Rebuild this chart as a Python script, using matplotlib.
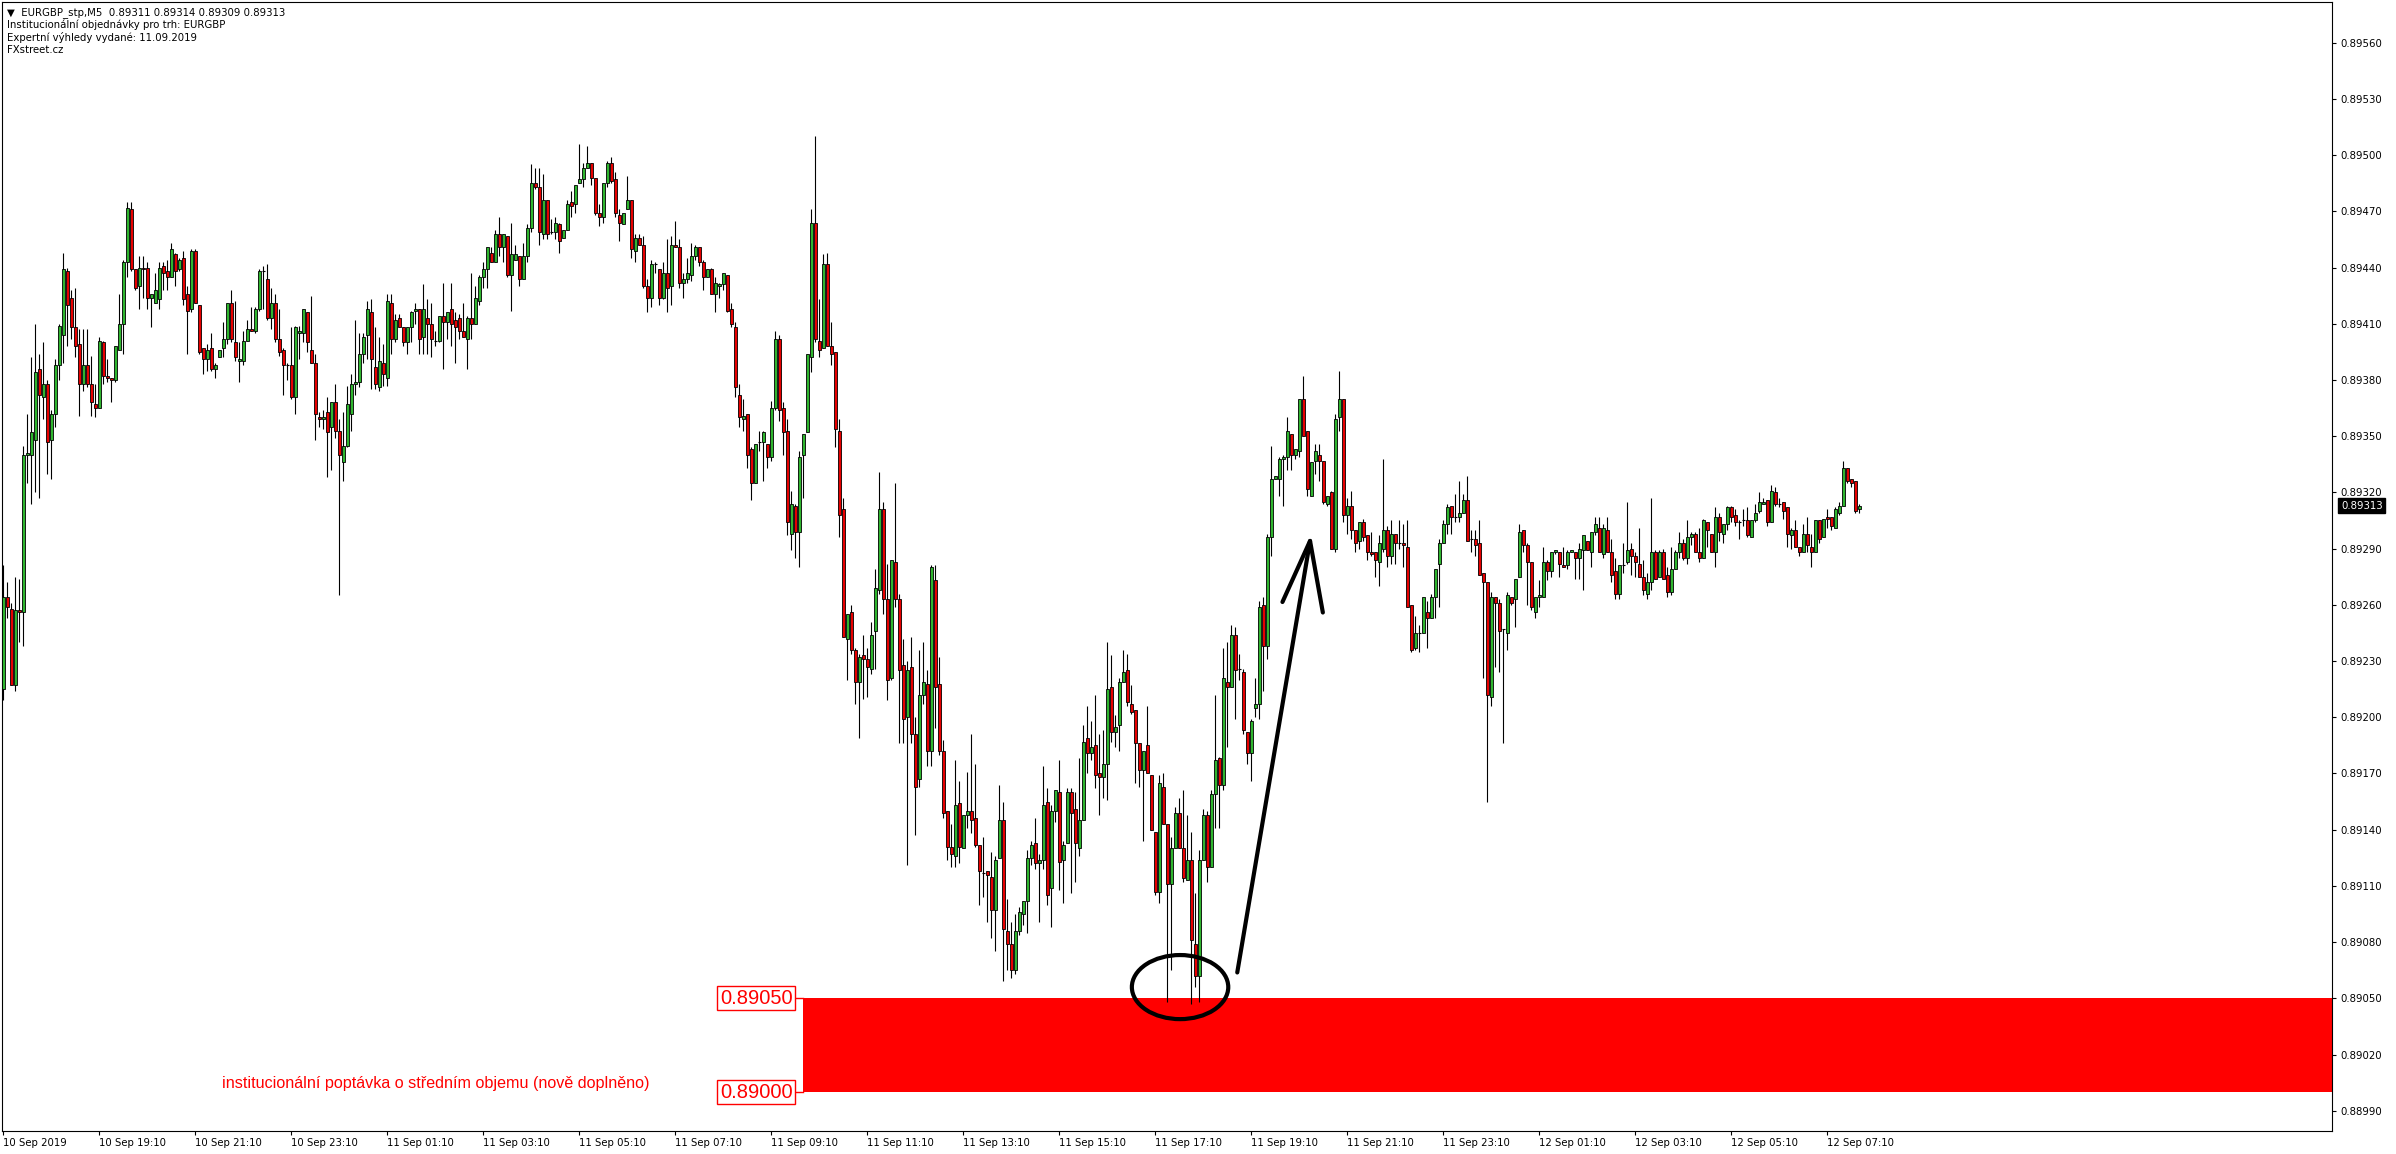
import matplotlib
matplotlib.use("Agg")
import matplotlib.pyplot as plt
from matplotlib.patches import Rectangle, Ellipse
from matplotlib.transforms import blended_transform_factory
import numpy as np

# EURGBP M5 candles, prices in points (1e-5)
opens = [
    89215, 89264, 89258, 89217, 89257, 89256, 89340, 89340, 89348, 89386, 89371, 89378,
    89348, 89362, 89388, 89404, 89438, 89424, 89408, 89399, 89378, 89388, 89378, 89367,
    89365, 89400, 89382, 89381, 89380, 89396, 89410, 89443, 89471, 89439, 89430, 89440,
    89440, 89424, 89421, 89423, 89441, 89438, 89435, 89447, 89439, 89445, 89426, 89418,
    89449, 89420, 89397, 89391, 89397, 89386, 89392, 89397, 89402, 89421, 89400, 89390,
    89390, 89401, 89407, 89406, 89418, 89438, 89434, 89413, 89421, 89402, 89396, 89388,
    89388, 89371, 89405, 89405, 89416, 89396, 89389, 89360, 89359, 89363, 89355, 89368,
    89353, 89336, 89345, 89362, 89378, 89379, 89394, 89404, 89416, 89387, 89376, 89389,
    89381, 89421, 89402, 89413, 89408, 89400, 89408, 89417, 89418, 89403, 89413, 89410,
    89401, 89401, 89414, 89411, 89418, 89412, 89413, 89406, 89402, 89413, 89410, 89422,
    89435, 89439, 89448, 89443, 89458, 89451, 89457, 89436, 89444, 89446, 89434, 89446,
    89461, 89485, 89483, 89458, 89476, 89459, 89459, 89463, 89456, 89460, 89475, 89474,
    89485, 89487, 89493, 89496, 89488, 89469, 89467, 89485, 89496, 89487, 89468, 89463,
    89471, 89476, 89449, 89456, 89452, 89430, 89424, 89442, 89439, 89424, 89437, 89430,
    89452, 89451, 89432, 89434, 89436, 89446, 89451, 89443, 89435, 89439, 89426, 89430,
    89431, 89436, 89418, 89408, 89372, 89359, 89362, 89343, 89325, 89347, 89347, 89346,
    89339, 89365, 89402, 89365, 89353, 89298, 89313, 89299, 89340, 89352, 89392, 89464,
    89401, 89397, 89442, 89398, 89395, 89353, 89311, 89242, 89256, 89236, 89219, 89233,
    89231, 89226, 89246, 89268, 89311, 89263, 89221, 89283, 89263, 89228, 89200, 89227,
    89191, 89167, 89212, 89218, 89182, 89273, 89218, 89182, 89150, 89131, 89126, 89154,
    89130, 89148, 89150, 89146, 89132, 89117, 89118, 89115, 89097, 89125, 89145, 89086,
    89079, 89065, 89086, 89095, 89102, 89125, 89133, 89122, 89124, 89155, 89109, 89150,
    89160, 89124, 89133, 89160, 89151, 89130, 89145, 89189, 89181, 89185, 89170, 89168,
    89175, 89216, 89192, 89196, 89219, 89225, 89207, 89204, 89186, 89172, 89185, 89169,
    89139, 89107, 89163, 89143, 89111, 89130, 89149, 89130, 89113, 89124, 89079, 89062,
    89124, 89148, 89120, 89159, 89178, 89164, 89219, 89216, 89244, 89226, 89224, 89192,
    89181, 89205, 89207, 89260, 89238, 89296, 89327, 89327, 89338, 89339, 89351, 89340,
    89342, 89370, 89353, 89318, 89337, 89340, 89337, 89314, 89320, 89290, 89360, 89370,
    89308, 89313, 89300, 89294, 89304, 89297, 89288, 89288, 89283, 89290, 89300, 89286,
    89298, 89293, 89293, 89291, 89260, 89237, 89245, 89245, 89256, 89253, 89264, 89282,
    89293, 89303, 89313, 89307, 89307, 89309, 89316, 89295, 89295, 89293, 89277, 89272,
    89211, 89264, 89261, 89247, 89245, 89264, 89263, 89275, 89300, 89292, 89283, 89256,
    89264, 89264, 89283, 89278, 89288, 89288, 89281, 89281, 89288, 89288, 89285, 89289,
    89294, 89288, 89299, 89301, 89287, 89300, 89288, 89278, 89266, 89281, 89283, 89290,
    89286, 89282, 89275, 89266, 89272, 89288, 89275, 89288, 89276, 89267, 89279, 89288,
    89293, 89285, 89296, 89298, 89288, 89285, 89304, 89298, 89288, 89307, 89298, 89303,
    89312, 89308, 89304, 89305, 89305, 89296, 89305, 89310, 89314, 89316, 89304, 89320,
    89314, 89315, 89312, 89297, 89300, 89291, 89288, 89298, 89291, 89288, 89305, 89296,
    89307, 89307, 89301, 89309, 89313, 89333, 89327, 89326, 89311,
]
highs = [
    89281, 89272, 89261, 89275, 89274, 89345, 89362, 89392, 89410, 89394, 89400, 89380,
    89364, 89391, 89410, 89448, 89440, 89428, 89429, 89407, 89407, 89407, 89393, 89378,
    89403, 89401, 89391, 89381, 89398, 89426, 89444, 89475, 89475, 89439, 89446, 89446,
    89443, 89426, 89437, 89443, 89443, 89444, 89453, 89448, 89445, 89449, 89430, 89450,
    89450, 89420, 89397, 89399, 89405, 89389, 89396, 89411, 89421, 89428, 89422, 89400,
    89406, 89412, 89419, 89419, 89439, 89441, 89442, 89429, 89426, 89418, 89397, 89389,
    89408, 89409, 89409, 89418, 89416, 89425, 89394, 89363, 89364, 89371, 89368, 89378,
    89359, 89363, 89377, 89383, 89412, 89405, 89405, 89422, 89423, 89408, 89403, 89399,
    89426, 89426, 89415, 89415, 89408, 89408, 89417, 89421, 89418, 89431, 89423, 89421,
    89406, 89414, 89432, 89416, 89432, 89416, 89415, 89421, 89414, 89437, 89430, 89436,
    89443, 89451, 89451, 89460, 89467, 89458, 89457, 89464, 89452, 89446, 89453, 89463,
    89495, 89493, 89493, 89490, 89476, 89466, 89467, 89464, 89460, 89476, 89481, 89484,
    89506, 89496, 89505, 89496, 89488, 89474, 89485, 89497, 89499, 89491, 89471, 89469,
    89489, 89476, 89458, 89458, 89457, 89434, 89444, 89443, 89439, 89443, 89455, 89457,
    89465, 89455, 89437, 89445, 89453, 89452, 89451, 89444, 89439, 89440, 89435, 89432,
    89437, 89436, 89421, 89411, 89378, 89370, 89362, 89344, 89346, 89353, 89353, 89346,
    89369, 89406, 89404, 89368, 89359, 89321, 89314, 89342, 89351, 89394, 89471, 89510,
    89423, 89447, 89448, 89411, 89395, 89359, 89317, 89255, 89260, 89237, 89234, 89244,
    89237, 89251, 89279, 89331, 89315, 89282, 89284, 89325, 89266, 89242, 89230, 89243,
    89200, 89236, 89240, 89225, 89281, 89281, 89232, 89188, 89150, 89143, 89177, 89166,
    89148, 89171, 89191, 89175, 89132, 89136, 89118, 89128, 89126, 89164, 89155, 89103,
    89091, 89095, 89099, 89102, 89129, 89134, 89146, 89127, 89174, 89162, 89153, 89161,
    89177, 89134, 89162, 89162, 89160, 89178, 89196, 89206, 89198, 89212, 89191, 89193,
    89240, 89233, 89201, 89221, 89236, 89234, 89217, 89204, 89186, 89182, 89206, 89169,
    89139, 89169, 89170, 89143, 89136, 89152, 89157, 89161, 89148, 89139, 89106, 89129,
    89151, 89150, 89161, 89212, 89179, 89237, 89240, 89249, 89248, 89234, 89226, 89192,
    89199, 89221, 89262, 89264, 89298, 89345, 89329, 89339, 89340, 89360, 89351, 89343,
    89370, 89382, 89353, 89336, 89346, 89346, 89337, 89318, 89321, 89362, 89385, 89370,
    89317, 89321, 89300, 89304, 89306, 89297, 89299, 89288, 89297, 89338, 89302, 89305,
    89298, 89305, 89303, 89305, 89260, 89254, 89249, 89264, 89262, 89266, 89279, 89295,
    89305, 89314, 89313, 89319, 89326, 89319, 89329, 89300, 89300, 89305, 89277, 89272,
    89267, 89264, 89263, 89247, 89267, 89264, 89274, 89303, 89300, 89293, 89283, 89264,
    89273, 89291, 89284, 89288, 89289, 89288, 89291, 89289, 89289, 89288, 89293, 89297,
    89294, 89299, 89307, 89307, 89303, 89307, 89295, 89285, 89281, 89293, 89315, 89293,
    89288, 89301, 89284, 89277, 89317, 89289, 89289, 89290, 89280, 89291, 89289, 89299,
    89295, 89305, 89299, 89299, 89301, 89306, 89304, 89298, 89312, 89309, 89303, 89313,
    89313, 89311, 89305, 89311, 89312, 89305, 89314, 89320, 89317, 89316, 89324, 89323,
    89317, 89315, 89312, 89301, 89305, 89291, 89303, 89307, 89298, 89305, 89305, 89306,
    89311, 89307, 89312, 89315, 89337, 89333, 89327, 89326, 89314,
]
lows = [
    89209, 89253, 89217, 89214, 89240, 89238, 89325, 89314, 89320, 89317, 89359, 89330,
    89327, 89355, 89380, 89389, 89398, 89402, 89392, 89361, 89374, 89376, 89361, 89360,
    89365, 89378, 89379, 89368, 89379, 89396, 89394, 89435, 89438, 89428, 89418, 89424,
    89418, 89408, 89421, 89418, 89428, 89428, 89435, 89430, 89438, 89420, 89394, 89416,
    89421, 89394, 89383, 89385, 89385, 89381, 89392, 89392, 89399, 89400, 89390, 89379,
    89388, 89401, 89406, 89405, 89417, 89418, 89412, 89407, 89400, 89393, 89372, 89380,
    89370, 89362, 89391, 89400, 89395, 89389, 89348, 89355, 89354, 89328, 89332, 89349,
    89265, 89326, 89344, 89353, 89372, 89376, 89389, 89391, 89375, 89375, 89374, 89377,
    89377, 89394, 89400, 89408, 89398, 89394, 89400, 89410, 89394, 89394, 89394, 89392,
    89398, 89400, 89386, 89402, 89398, 89389, 89402, 89403, 89386, 89402, 89410, 89420,
    89429, 89429, 89443, 89443, 89446, 89443, 89435, 89417, 89444, 89430, 89434, 89443,
    89459, 89482, 89452, 89455, 89455, 89458, 89455, 89448, 89456, 89460, 89467, 89469,
    89485, 89483, 89493, 89484, 89468, 89462, 89464, 89483, 89485, 89467, 89454, 89463,
    89471, 89445, 89443, 89452, 89429, 89416, 89419, 89437, 89420, 89423, 89416, 89420,
    89451, 89429, 89424, 89432, 89433, 89444, 89441, 89428, 89435, 89426, 89416, 89424,
    89428, 89416, 89408, 89371, 89355, 89353, 89333, 89316, 89325, 89342, 89326, 89333,
    89337, 89364, 89358, 89340, 89297, 89289, 89285, 89280, 89317, 89352, 89384, 89400,
    89392, 89397, 89398, 89388, 89344, 89296, 89243, 89220, 89234, 89207, 89189, 89210,
    89211, 89223, 89226, 89266, 89255, 89209, 89220, 89259, 89186, 89186, 89121, 89186,
    89137, 89163, 89207, 89174, 89174, 89194, 89180, 89146, 89124, 89120, 89120, 89122,
    89130, 89141, 89138, 89131, 89100, 89104, 89091, 89082, 89075, 89125, 89059, 89065,
    89061, 89063, 89084, 89089, 89085, 89121, 89119, 89091, 89119, 89100, 89088, 89144,
    89108, 89101, 89133, 89106, 89112, 89126, 89145, 89170, 89177, 89162, 89148, 89157,
    89156, 89187, 89184, 89182, 89219, 89206, 89202, 89165, 89163, 89134, 89170, 89140,
    89105, 89101, 89143, 89048, 89065, 89130, 89130, 89112, 89113, 89047, 89056, 89048,
    89124, 89112, 89120, 89141, 89141, 89161, 89184, 89216, 89199, 89220, 89191, 89175,
    89166, 89200, 89199, 89214, 89231, 89286, 89327, 89318, 89313, 89332, 89332, 89338,
    89339, 89350, 89318, 89318, 89330, 89326, 89314, 89313, 89290, 89288, 89353, 89304,
    89298, 89295, 89288, 89290, 89294, 89284, 89286, 89275, 89270, 89288, 89280, 89282,
    89282, 89290, 89280, 89259, 89235, 89236, 89235, 89245, 89237, 89253, 89253, 89259,
    89293, 89298, 89298, 89304, 89304, 89309, 89294, 89288, 89286, 89276, 89221, 89155,
    89206, 89227, 89224, 89186, 89236, 89260, 89248, 89275, 89288, 89260, 89257, 89253,
    89259, 89264, 89273, 89275, 89287, 89275, 89280, 89279, 89288, 89274, 89274, 89268,
    89289, 89280, 89297, 89288, 89285, 89288, 89272, 89263, 89263, 89277, 89282, 89276,
    89275, 89275, 89265, 89263, 89268, 89274, 89275, 89274, 89264, 89265, 89279, 89285,
    89284, 89282, 89292, 89288, 89283, 89285, 89291, 89288, 89280, 89294, 89293, 89300,
    89304, 89302, 89295, 89302, 89296, 89296, 89304, 89309, 89314, 89302, 89304, 89313,
    89312, 89306, 89291, 89290, 89291, 89286, 89288, 89288, 89280, 89288, 89293, 89296,
    89301, 89300, 89301, 89308, 89313, 89325, 89323, 89309, 89309,
]
closes = [
    89264, 89259, 89217, 89257, 89256, 89340, 89341, 89352, 89384, 89372, 89378, 89347,
    89362, 89388, 89409, 89439, 89420, 89408, 89398, 89378, 89388, 89378, 89368, 89365,
    89401, 89382, 89381, 89380, 89398, 89410, 89443, 89472, 89439, 89429, 89440, 89439,
    89424, 89426, 89428, 89440, 89437, 89435, 89450, 89438, 89444, 89423, 89417, 89449,
    89421, 89395, 89391, 89396, 89386, 89388, 89396, 89402, 89421, 89402, 89392, 89391,
    89401, 89407, 89406, 89418, 89438, 89438, 89413, 89421, 89402, 89395, 89388, 89388,
    89371, 89408, 89406, 89418, 89400, 89389, 89362, 89359, 89360, 89352, 89368, 89353,
    89340, 89345, 89367, 89378, 89379, 89394, 89403, 89418, 89391, 89378, 89390, 89383,
    89422, 89402, 89412, 89408, 89400, 89408, 89416, 89418, 89402, 89418, 89410, 89402,
    89401, 89414, 89411, 89416, 89410, 89408, 89406, 89403, 89413, 89410, 89424, 89435,
    89439, 89451, 89443, 89458, 89451, 89458, 89436, 89447, 89447, 89434, 89446, 89461,
    89485, 89483, 89459, 89476, 89458, 89459, 89464, 89454, 89460, 89474, 89473, 89484,
    89487, 89493, 89496, 89488, 89469, 89467, 89485, 89496, 89486, 89469, 89464, 89469,
    89476, 89450, 89456, 89452, 89430, 89424, 89442, 89442, 89424, 89437, 89429, 89452,
    89451, 89432, 89434, 89437, 89446, 89451, 89443, 89435, 89439, 89426, 89432, 89431,
    89437, 89417, 89410, 89376, 89360, 89361, 89340, 89325, 89346, 89347, 89352, 89339,
    89365, 89402, 89364, 89352, 89304, 89314, 89299, 89339, 89351, 89394, 89464, 89402,
    89396, 89442, 89398, 89394, 89354, 89308, 89243, 89255, 89236, 89219, 89232, 89231,
    89227, 89244, 89269, 89311, 89263, 89220, 89284, 89263, 89225, 89199, 89225, 89191,
    89163, 89212, 89219, 89182, 89280, 89216, 89182, 89149, 89131, 89127, 89153, 89131,
    89148, 89150, 89145, 89132, 89118, 89117, 89116, 89097, 89124, 89145, 89087, 89079,
    89065, 89086, 89096, 89102, 89125, 89132, 89122, 89124, 89153, 89105, 89150, 89161,
    89123, 89132, 89160, 89149, 89133, 89145, 89187, 89181, 89184, 89169, 89168, 89175,
    89215, 89192, 89195, 89219, 89224, 89208, 89203, 89186, 89172, 89182, 89170, 89140,
    89107, 89165, 89143, 89111, 89130, 89149, 89130, 89114, 89124, 89081, 89062, 89124,
    89148, 89120, 89159, 89177, 89164, 89221, 89216, 89244, 89225, 89226, 89193, 89181,
    89198, 89207, 89259, 89238, 89296, 89327, 89329, 89338, 89339, 89353, 89340, 89343,
    89370, 89350, 89322, 89336, 89342, 89337, 89315, 89318, 89290, 89359, 89370, 89308,
    89313, 89300, 89293, 89304, 89296, 89288, 89287, 89284, 89293, 89300, 89286, 89298,
    89293, 89293, 89292, 89259, 89236, 89245, 89245, 89264, 89253, 89264, 89279, 89293,
    89303, 89312, 89307, 89307, 89309, 89316, 89294, 89295, 89292, 89276, 89272, 89212,
    89264, 89261, 89246, 89247, 89265, 89261, 89274, 89299, 89292, 89283, 89259, 89264,
    89265, 89283, 89278, 89288, 89289, 89282, 89280, 89288, 89289, 89285, 89290, 89297,
    89289, 89299, 89303, 89288, 89301, 89288, 89276, 89266, 89281, 89281, 89289, 89286,
    89283, 89275, 89268, 89272, 89288, 89274, 89288, 89274, 89267, 89279, 89288, 89293,
    89285, 89296, 89298, 89288, 89285, 89305, 89300, 89288, 89307, 89299, 89303, 89312,
    89307, 89304, 89304, 89305, 89297, 89305, 89309, 89315, 89315, 89304, 89321, 89314,
    89314, 89310, 89298, 89300, 89291, 89288, 89298, 89292, 89288, 89305, 89295, 89306,
    89306, 89302, 89311, 89313, 89333, 89326, 89325, 89310, 89313,
]

time_labels = ["10 Sep 2019", "10 Sep 19:10", "10 Sep 21:10", "10 Sep 23:10",
               "11 Sep 01:10", "11 Sep 03:10", "11 Sep 05:10", "11 Sep 07:10",
               "11 Sep 09:10", "11 Sep 11:10", "11 Sep 13:10", "11 Sep 15:10",
               "11 Sep 17:10", "11 Sep 19:10", "11 Sep 21:10", "11 Sep 23:10",
               "12 Sep 01:10", "12 Sep 03:10", "12 Sep 05:10", "12 Sep 07:10"]
bars_per_label = 24
y_ticks = [0.88990, 0.89020, 0.89050, 0.89080, 0.89110, 0.89140, 0.89170, 0.89200,
           0.89230, 0.89260, 0.89290, 0.89320, 0.89350, 0.89380, 0.89410, 0.89440,
           0.89470, 0.89500, 0.89530, 0.89560]

zone_low, zone_high = 0.89000, 0.89050
zone_start = 199.9
zone_text = "institucionální poptávka o středním objemu (nově doplněno)"
header = ["\u25bc  EURGBP_stp,M5  0.89311 0.89314 0.89309 0.89313",
          "Institucionální objednávky pro trh: EURGBP",
          "Expertní výhledy vydané: 11.09.2019",
          "FXstreet.cz"]

assert len(opens) == len(highs) == len(lows) == len(closes)

o = np.array(opens) / 1e5
h = np.array(highs) / 1e5
l = np.array(lows) / 1e5
c = np.array(closes) / 1e5
idx = np.arange(len(o))

W, H = 2396, 1154
fig = plt.figure(figsize=(W / 100, H / 100), dpi=100)
ax = fig.add_axes([2 / W, 1 - 1131 / H, 2330 / W, 1129 / H])

GREEN = "#2fb52f"
RED = "#e60000"
up = c > o
down = c < o
flat = ~up & ~down

ax.vlines(idx, l, h, color="black", lw=0.8, zorder=2)
ax.bar(idx[up], (c - o)[up], bottom=o[up], width=0.7, color=GREEN,
       edgecolor="black", lw=0.6, zorder=3)
ax.bar(idx[down], (o - c)[down], bottom=c[down], width=0.7, color=RED,
       edgecolor="black", lw=0.6, zorder=3)
ax.hlines(o[flat], idx[flat] - 0.4, idx[flat] + 0.4, color="black", lw=0.8, zorder=3)

xmin, xmax = -0.33, 582.2
ax.set_xlim(xmin, xmax)
ax.set_ylim(0.889792, 0.895817)

# demand zone
ax.add_patch(Rectangle((zone_start, zone_low), xmax - zone_start, zone_high - zone_low,
                       color="#ff0000", lw=0, zorder=1))
narrow = ["Liberation Sans Narrow", "Liberation Sans"]
for lvl in (zone_high, zone_low):
    ax.plot([197.7, zone_start], [lvl, lvl], color="#ff0000", lw=1, zorder=1)
    ax.text(197.3, lvl, f"{lvl:.5f}", ha="right", va="center", color="#ff0000",
            fontsize=14.5, family=narrow,
            bbox=dict(boxstyle="square,pad=0.12", fc="white", ec="#ff0000", lw=1))
ax.text(108.2, 0.890048, zone_text, ha="center", va="center", color="#ff0000",
        fontsize=11.6, family=narrow)

# circle around the double bottom and the arrow
ax.add_patch(Ellipse((294.2, 0.89056), 24.1, 0.000342, fill=False,
                     ec="black", lw=3, zorder=5))
ax.plot([308.5, 326.7], [0.890638, 0.892941], color="black", lw=3,
        solid_capstyle="round", zorder=5)
ax.plot([319.8, 326.7, 329.9], [0.892615, 0.892941, 0.892559], color="black", lw=3,
        solid_capstyle="round", solid_joinstyle="round", zorder=5)

# axes styling
for s in ax.spines.values():
    s.set_linewidth(0.8)
ax.set_xticks(idx[::bars_per_label][:len(time_labels)])
ax.set_xticklabels(time_labels, fontsize=7.3)
for lbl in ax.get_xticklabels():
    lbl.set_ha("left")
ax.yaxis.tick_right()
ax.set_yticks(y_ticks)
ax.set_yticklabels([f"{v:.5f}" for v in y_ticks], fontsize=7.3)
ax.tick_params(axis="both", direction="out", length=3, width=0.8)
ax.tick_params(axis="x", pad=2)
ax.tick_params(axis="y", pad=3)

tr = blended_transform_factory(ax.transAxes, ax.transData)
ax.text(1 + 9 / 2330, c[-1], f"{c[-1]:.5f}", transform=tr, color="white",
        fontsize=7.3, ha="left", va="center",
        bbox=dict(boxstyle="square,pad=0.25", fc="black", ec="black"))

for k, line in enumerate(header):
    fig.text(7 / W, 1 - (12.7 + 12.4 * k) / H, line, fontsize=7.3, va="center", ha="left")

fig.savefig("out.png", dpi=100)
